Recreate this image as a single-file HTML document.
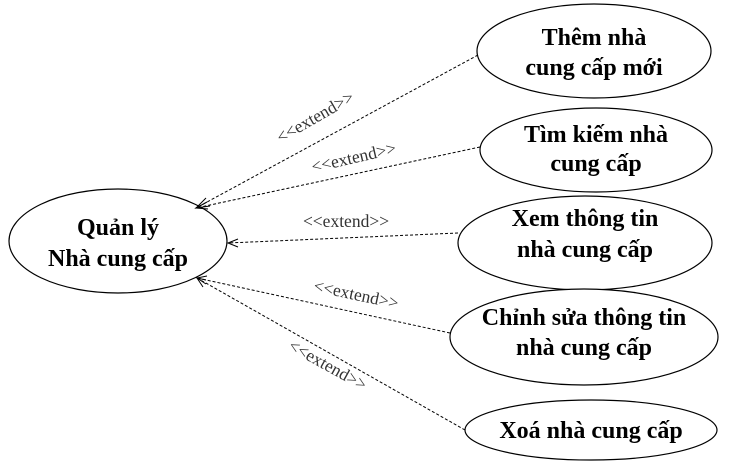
<!DOCTYPE html>
<html><head><meta charset="utf-8"><style>
html,body{margin:0;padding:0;background:#fff}
svg{display:block}
text{font-family:"Liberation Serif","Times New Roman","DejaVu Serif",serif}
.t{font-weight:bold;font-size:24px;fill:#000;text-anchor:middle}
.l{font-size:17.5px;fill:#333;text-anchor:middle}
.e{fill:#fff;stroke:#000;stroke-width:1.2}
.d{stroke:#000;stroke-width:1;stroke-dasharray:3,2;fill:none}
.a{stroke:#000;stroke-width:1;fill:none}
</style></head><body>
<svg width="747" height="467" viewBox="0 0 747 467">
<g>
<ellipse class="e" cx="118" cy="241" rx="109" ry="52"/>
<text class="t" x="118" y="235" style="font-size:24px">Quản lý</text>
<text class="t" x="118" y="266" style="font-size:24px">Nhà cung cấp</text>
</g>
<g>
<ellipse class="e" cx="594" cy="51" rx="117" ry="47"/>
<text class="t" x="594" y="45">Thêm nhà</text><text class="t" x="594" y="75">cung cấp mới</text>
</g>
<g>
<ellipse class="e" cx="596" cy="150" rx="116" ry="42"/>
<text class="t" x="596" y="142">Tìm kiếm nhà</text><text class="t" x="596" y="171">cung cấp</text>
</g>
<g>
<ellipse class="e" cx="585" cy="243" rx="127" ry="47"/>
<text class="t" x="585" y="226">Xem thông tin</text><text class="t" x="585" y="257">nhà cung cấp</text>
</g>
<g>
<ellipse class="e" cx="584" cy="337" rx="134" ry="48"/>
<text class="t" x="584" y="325">Chỉnh sửa thông tin</text><text class="t" x="584" y="355">nhà cung cấp</text>
</g>
<g>
<ellipse class="e" cx="591" cy="430" rx="126" ry="30"/>
<text class="t" x="591" y="438">Xoá nhà cung cấp</text>
</g>
<g>
<line class="d" x1="478" y1="55" x2="196" y2="208"/>
<polyline class="a" points="206,198 196,208 210,206"/>
<text class="l" transform="translate(318,122) rotate(-30)">&lt;&lt;extend&gt;&gt;</text>
</g>
<g>
<line class="d" x1="480" y1="147" x2="196" y2="208"/>
<polyline class="a" points="207,202 196,208 208,209"/>
<text class="l" transform="translate(355,163) rotate(-13)">&lt;&lt;extend&gt;&gt;</text>
</g>
<g>
<line class="d" x1="458" y1="233" x2="228" y2="243"/>
<polyline class="a" points="238,239 228,243 238,247"/>
<text class="l" x="346" y="227">&lt;&lt;extend&gt;&gt;</text>
</g>
<g>
<line class="d" x1="450" y1="333" x2="197" y2="278"/>
<polyline class="a" points="207,276 197,278 206,284"/>
<text class="l" transform="translate(355,300) rotate(12)">&lt;&lt;extend&gt;&gt;</text>
</g>
<g>
<line class="d" x1="465" y1="430" x2="197" y2="278"/>
<polyline class="a" points="206,280 197,278 203,287"/>
<text class="l" transform="translate(325,370) rotate(29)">&lt;&lt;extend&gt;&gt;</text>
</g>
</svg>
</body></html>
